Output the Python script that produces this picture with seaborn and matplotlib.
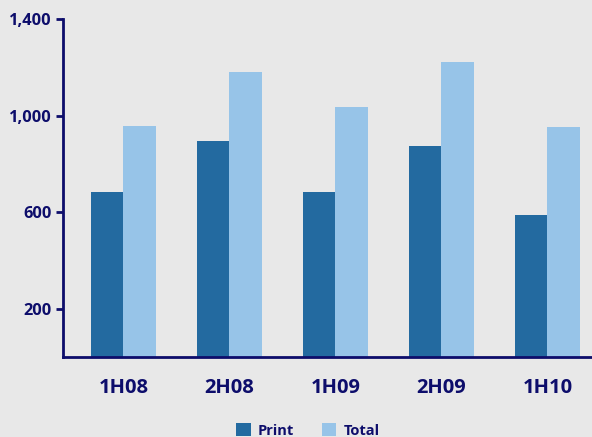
import matplotlib
matplotlib.use("Agg")
import matplotlib.pyplot as plt
import seaborn as sns
import pandas as pd

periods = ["1H08", "2H08", "1H09", "2H09", "1H10"]
print_vals = [683, 896, 683, 875, 587]
total_vals = [958, 1179, 1037, 1221, 954]
series_names = ["Print", "Total"]
y_ticks = [200, 600, 1000, 1400]

df = pd.DataFrame({
    "period": periods * 2,
    "value": print_vals + total_vals,
    "series": [series_names[0]] * len(periods) + [series_names[1]] * len(periods),
})

sns.set_theme(style="white")
plt.rcParams["font.family"] = ["Open Sans", "DejaVu Sans"]

navy = "#0d0d6b"
bg = "#e8e8e8"
colors = {"Print": "#236aa0", "Total": "#97c4e8"}

fig = plt.figure(figsize=(5.92, 4.37), dpi=100, facecolor=bg)
ax = fig.add_axes([63 / 592, (437 - 357) / 437, 1 - 63 / 592, (357 - 19) / 437])
ax.set_facecolor(bg)

sns.barplot(data=df, x="period", y="value", hue="series", palette=colors,
            width=0.62, gap=0, saturation=1, linewidth=0, edgecolor="none",
            ax=ax, legend=True)

ax.set_xlim(-0.57, 4.42)
ax.set_ylim(0, 1400)
ax.set_yticks(y_ticks)
ax.set_yticklabels([f"{v:,}" for v in y_ticks])
ax.set_xlabel("")
ax.set_ylabel("")

for s in ["top", "right"]:
    ax.spines[s].set_visible(False)
for s in ["left", "bottom"]:
    ax.spines[s].set_color(navy)
    ax.spines[s].set_linewidth(2)

ax.tick_params(axis="y", which="both", left=True, length=5, width=2, color=navy,
               labelcolor=navy, labelsize=11.8, pad=3)
ax.tick_params(axis="x", bottom=False, labelcolor=navy, labelsize=14.5, pad=9)
for lab in ax.get_yticklabels():
    lab.set_fontweight("bold")
for lab in ax.get_xticklabels():
    lab.set_fontweight("bold")

handles, labels = ax.get_legend_handles_labels()
ax.get_legend().remove()
leg = fig.legend(handles, labels, loc="center", bbox_to_anchor=(0.52, 0.015),
                 ncol=2, frameon=False, handlelength=1.0, handleheight=1.0,
                 handletextpad=0.5, columnspacing=1.9,
                 prop={"family": ["Open Sans", "DejaVu Sans"], "weight": "bold", "size": 10.5})
for t in leg.get_texts():
    t.set_color(navy)

fig.savefig("out.png", dpi=100, facecolor=bg)
